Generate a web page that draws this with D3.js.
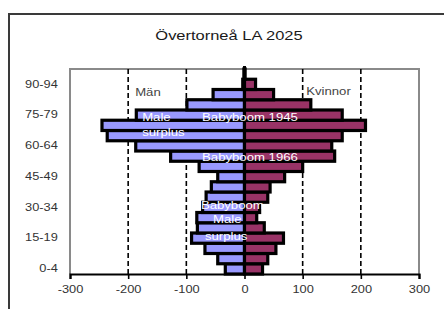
<!DOCTYPE html>
<html><head><meta charset="utf-8">
<script src="https://cdn.jsdelivr.net/npm/d3@7"></script>
<style>
html,body{margin:0;padding:0;background:#fff;}
svg{display:block;font-family:Arial,"Liberation Sans",sans-serif;}
</style></head>
<body>
<svg id="c" width="444" height="309"></svg>
<script>
const title = "Övertorneå LA 2025";
const ages = ["0-4","5-9","10-14","15-19","20-24","25-29","30-34","35-39","40-44","45-49","50-54","55-59","60-64","65-69","70-74","75-79","80-84","85-89","90-94","95+"];
const men =   [33, 46, 68, 91, 81, 82, 72, 66, 57, 46, 78, 127, 187, 236, 245, 186, 99, 54, 3, 1];
const women = [31, 40, 54, 67, 34, 21, 26, 40, 44, 69, 100, 155, 150, 168, 208, 168, 114, 50, 19, 1];
const xTicks = [-300,-200,-100,0,100,200,300];
const gridTicks = [-200,-100,100,200];
const ageLabels = ["0-4","15-19","30-34","45-49","60-64","75-79","90-94"];
const seriesNames = ["Män","Kvinnor"];
// annotations: text, value position, vertical position in band units (baseline)
const notes = [
  {t:"Male", v:-176, k:14.9, c:"#fff"},
  {t:"surplus", v:-176, k:13.46, c:"#fff"},
  {t:"Babyboom 1945", v:-73, k:14.93, c:"#fff"},
  {t:"Babyboom 1966", v:-73, k:11.02, c:"#fff"},
  {t:"Babyboom", v:-75, k:6.34, c:"#fff"},
  {t:"Male", v:-54, k:4.98, c:"#fff"},
  {t:"surplus", v:-68, k:3.32, c:"#fff"},
  {t:seriesNames[0], v:-188, k:17.37, c:"#444"},
  {t:seriesNames[1], v:106, k:17.46, c:"#444"}
];

const svg = d3.select("#c");
const L = 70, R = 419, T = 69, B = 274;
const SX = 1.22;
const x = d3.scaleLinear().domain([-300,300]).range([L,R]);
const y = d3.scaleBand().domain(ages.slice().reverse()).range([T,B]).padding(0);
const yk = d3.scaleLinear().domain([0,ages.length]).range([B,T]);

// outer frame
svg.append("path").attr("d",`M9,309 V14 H444`).attr("fill","none").attr("stroke","#3a3a3a").attr("stroke-width",2);

// title
svg.append("text").attr("transform",`translate(229,39.5) scale(${SX},1)`)
  .attr("text-anchor","middle").attr("font-size",13.5).attr("fill","#1a1a1a").text(title);

// plot border (gray)
svg.append("path").attr("d",`M${L},${B} V${T} H${R} V${B}`).attr("fill","none").attr("stroke","#8a8a8a").attr("stroke-width",2);

// dashed grid
svg.append("g").selectAll("line").data(gridTicks).join("line")
  .attr("x1",d=>x(d)).attr("x2",d=>x(d)).attr("y1",T).attr("y2",B)
  .attr("stroke","#000").attr("stroke-width",1.6).attr("stroke-dasharray","5,3");

const data = ages.map((a,i)=>({a, m:men[i], w:women[i]}));
// men bars
svg.append("g").selectAll("rect").data(data).join("rect")
  .attr("x",d=>x(-d.m)).attr("width",d=>x(0)-x(-d.m))
  .attr("y",d=>y(d.a)).attr("height",y.bandwidth())
  .attr("fill","#9999ff").attr("stroke","#000").attr("stroke-width",3.2);
// women bars
svg.append("g").selectAll("rect").data(data).join("rect")
  .attr("x",x(0)).attr("width",d=>x(d.w)-x(0))
  .attr("y",d=>y(d.a)).attr("height",y.bandwidth())
  .attr("fill","#993366").attr("stroke","#000").attr("stroke-width",3.2);

// zero line
svg.append("line").attr("x1",x(0)).attr("x2",x(0)).attr("y1",T-3).attr("y2",B)
  .attr("stroke","#000").attr("stroke-width",3);

// x axis
const gx = svg.append("g").attr("transform",`translate(0,${B})`)
  .call(d3.axisBottom(x).tickValues(xTicks).tickSize(5).tickPadding(7).tickFormat(d3.format("d")));
gx.select(".domain").attr("stroke","#000").attr("stroke-width",2.2);
gx.selectAll(".tick line").attr("stroke","#000").attr("stroke-width",1.6);
gx.selectAll(".tick text").attr("font-size",10.5).attr("fill","#333")
  .attr("font-family",'Arial,"Liberation Sans",sans-serif')
  .attr("transform",`scale(${SX},1)`).text(d=>d<0? "-"+Math.abs(d): d);

// y axis labels
const gy = svg.append("g").attr("transform",`translate(${L},0)`)
  .call(d3.axisLeft(y).tickValues(ageLabels).tickSize(0).tickPadding(10));
gy.select(".domain").remove();
gy.selectAll(".tick text").attr("font-size",10.5).attr("fill","#333")
  .attr("font-family",'Arial,"Liberation Sans",sans-serif')
  .attr("transform",`scale(${SX},1)`).attr("dy","0.3em");

// annotations
svg.append("g").selectAll("text").data(notes).join("text")
  .attr("transform",d=>`translate(${x(d.v)},${yk(d.k)}) scale(${SX},1)`)
  .attr("font-size",10.8).attr("fill",d=>d.c).text(d=>d.t);
</script>
</body></html>
